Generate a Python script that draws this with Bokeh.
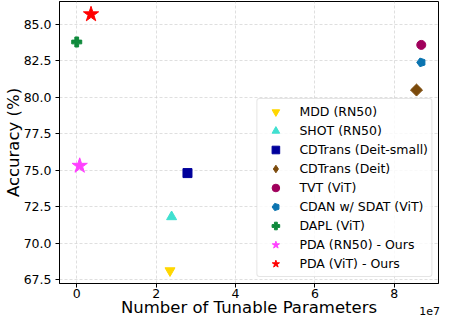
import math
from bokeh.plotting import figure
from bokeh.models import (FixedTicker, CustomJSTickFormatter, NumeralTickFormatter,
                          Range1d, LinearAxis, ColumnDataSource)
from bokeh.embed import file_html
from bokeh.resources import INLINE

# ---- data ----
methods = ["MDD (RN50)", "SHOT (RN50)", "CDTrans (Deit-small)", "CDTrans (Deit)",
           "TVT (ViT)", "CDAN w/ SDAT (ViT)", "DAPL (ViT)",
           "PDA (RN50) - Ours", "PDA (ViT) - Ours"]
params = [2.35e7, 2.39e7, 2.79e7, 8.56e7, 8.68e7, 8.68e7, 0.0, 0.075e7, 0.36e7]
accuracy = [68.1, 71.8, 74.8, 80.5, 83.6, 82.4, 83.8, 75.3, 85.7]
markers = ["inverted_triangle", "triangle", "square", "diamond_sq", "circle",
           "pentagon", "plus", "star", "star"]
colors = ["#FFD700", "#40E0D0", "#00009C", "#7B4A0B", "#A0005C",
          "#0B74B0", "#0F8A3C", "#FF40FF", "#FF0000"]
sizes = [10, 10, 9, 8.5, 9, 9, 10, 16, 16]
x_ticks = [0, 2e7, 4e7, 6e7, 8e7]
y_ticks = [67.5, 70.0, 72.5, 75.0, 77.5, 80.0, 82.5, 85.0]
x_label = "Number of Tunable Parameters"
y_label = "Accuracy (%)"
x_offset_text = "1e7"

FONT = "DejaVu Sans"
W, H = 441, 319
BL, BR, BT = 52, 3, 1

xmin, xmax = min(params), max(params)
ymin, ymax = min(accuracy), max(accuracy)
xpad = 0.05 * (xmax - xmin)
ypad = 0.05 * (ymax - ymin)
x0, x1 = xmin - xpad, xmax + xpad
y0, y1 = ymin - ypad, ymax + ypad

p = figure(width=W, height=H, output_backend="svg", toolbar_location=None,
           x_range=Range1d(x0, x1), y_range=Range1d(y0, y1),
           min_border_left=BL, min_border_right=BR, min_border_top=BT,
           min_border_bottom=0)
p.background_fill_color = "white"
p.border_fill_color = "white"
p.outline_line_color = "black"
p.outline_line_width = 1

for i in range(len(methods)):
    src = ColumnDataSource(dict(x=[params[i]], y=[accuracy[i]]))
    m = markers[i]
    c = colors[i]
    if m == "pentagon":
        try:
            p.ngon(x="x", y="y", source=src, radius=sizes[i] / 2.0,
                   radius_units="screen", n=5, angle=math.pi / 2,
                   fill_color=c, line_color=c, legend_label=methods[i])
        except Exception:
            p.scatter(x="x", y="y", source=src, marker="hex", size=sizes[i],
                      fill_color=c, line_color=c, legend_label=methods[i])
    elif m == "diamond_sq":
        # legend swatch as a diamond (hidden in the plot itself)
        p.scatter(x="x", y="y", source=src, marker="diamond", size=sizes[i],
                  fill_color=c, line_color=c, legend_label=methods[i],
                  visible=False)
        p.scatter(x="x", y="y", source=src, marker="square", size=sizes[i],
                  angle=math.pi / 4, fill_color=c, line_color=c)
    else:
        p.scatter(x="x", y="y", source=src, marker=m, size=sizes[i],
                  fill_color=c, line_color=c, legend_label=methods[i])

# ---- axes ----
xa = p.xaxis[0]
ya = p.yaxis[0]
xa.ticker = FixedTicker(ticks=x_ticks)
xa.formatter = CustomJSTickFormatter(code="return (tick/1e7).toFixed(0);")
ya.ticker = FixedTicker(ticks=y_ticks)
ya.formatter = NumeralTickFormatter(format="0.0")
ya.axis_label = y_label
for ax in (xa, ya):
    ax.axis_label_text_font = FONT
    ax.axis_label_text_font_size = "16.5px"
    ax.axis_label_text_font_style = "normal"
    ax.axis_label_text_color = "black"
    ax.major_label_text_font = FONT
    ax.major_label_text_font_size = "12.5px"
    ax.major_label_text_color = "black"
    ax.major_tick_out = 4
    ax.major_tick_in = 0
    ax.minor_tick_out = 0
    ax.minor_tick_in = 0
    ax.axis_line_color = "black"
    ax.major_tick_line_color = "black"
xa.major_label_standoff = 1
ya.major_label_standoff = 4
ya.axis_label_standoff = -2

# x axis title as its own text row below the tick labels
frame_w = W - BL - BR
xa2 = LinearAxis(ticker=FixedTicker(ticks=[(x0 + x1) / 2]),
                 formatter=CustomJSTickFormatter(args=dict(t=x_label),
                                                 code="return t;"),
                 axis_line_color=None, major_tick_line_color=None,
                 minor_tick_line_color=None, major_tick_out=0, major_tick_in=0,
                 minor_tick_out=0, minor_tick_in=0,
                 major_label_text_font=FONT, major_label_text_font_size="16.5px",
                 major_label_text_color="black", major_label_standoff=-3)
p.add_layout(xa2, "below")
# offset text "1e7" at the right end
xa3 = LinearAxis(ticker=FixedTicker(ticks=[x1 - (x1 - x0) * 9.0 / frame_w]),
                 formatter=CustomJSTickFormatter(args=dict(t=x_offset_text),
                                                 code="return t;"),
                 axis_line_color=None, major_tick_line_color=None,
                 minor_tick_line_color=None, major_tick_out=0, major_tick_in=0,
                 minor_tick_out=0, minor_tick_in=0,
                 major_label_text_font=FONT, major_label_text_font_size="11px",
                 major_label_text_color="black", major_label_standoff=-13)
p.add_layout(xa3, "below")

for g in (p.xgrid[0], p.ygrid[0]):
    g.grid_line_color = "#cccccc"
    g.grid_line_alpha = 0.8
    g.grid_line_dash = "3 2"
    g.grid_line_width = 0.8
p.xgrid[0].ticker = xa.ticker
p.ygrid[0].ticker = ya.ticker

# ---- legend ----
lg = p.legend[0]
lg.location = "bottom_right"
lg.margin = 6
lg.padding = 3
lg.spacing = 0
lg.glyph_height = 19
lg.glyph_width = 30
lg.label_height = 19
lg.label_standoff = 9
lg.label_text_font = FONT
lg.label_text_font_size = "12.5px"
lg.label_text_color = "black"
lg.border_line_color = "#cccccc"
lg.border_line_width = 1
lg.background_fill_color = "white"
lg.background_fill_alpha = 0.8
try:
    lg.border_radius = 3
except Exception:
    pass

open("out.html", "w").write(file_html(p, INLINE))
